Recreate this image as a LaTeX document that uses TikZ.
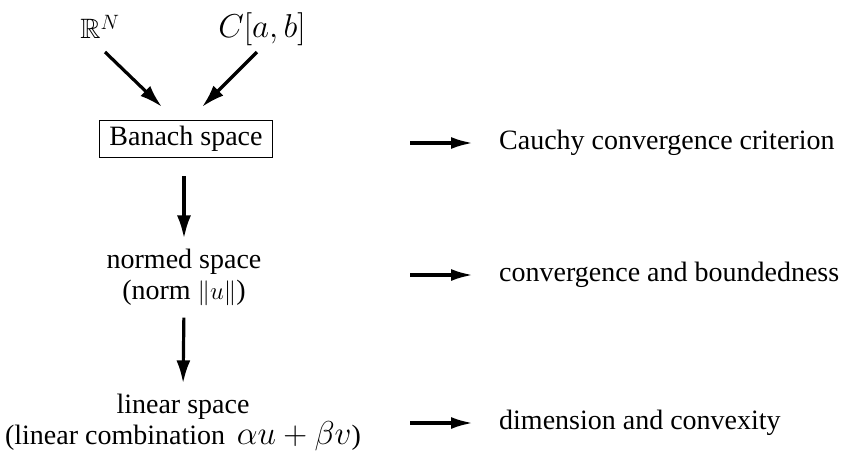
\documentclass[tikz,border=0pt]{standalone}
\usepackage{graphicx}
\usepackage{amssymb}
\usepackage{fontspec}
\setmainfont{Liberation Serif}
\usetikzlibrary{arrows.meta}
\newcommand\bigmath[1]{\scalebox{1.33}{$#1$}}
\tikzset{
  lbl/.style={inner sep=2pt, align=center, font=\fontsize{28}{31}\selectfont},
  arr/.style={line width=3.2pt, -{Latex[length=23pt,width=14pt]}},
  harr/.style={line width=3.2pt, -{Latex[length=22pt,width=12pt]}},
}
\begin{document}
\begin{tikzpicture}[x=1pt,y=-1pt]
\useasboundingbox (0,0) rectangle (841,451);
\node[lbl] (rn) at (100,27) {$\mathbb{R}^N$};
\node[lbl] (cab) at (262,29) {\bigmath{C[a,b]}};
\node[lbl, draw, line width=1.4pt, inner xsep=10pt, inner ysep=6pt] (ban) at (186,139) {Banach space};
\node[lbl] (nor) at (184,277) {normed space\\(norm $\|u\|$)};
\node[lbl] (lin) at (183,422) {linear space\\(linear combination\, \bigmath{\alpha u + \beta v})};
\node[lbl, anchor=west] (cau) at (497,143) {Cauchy convergence criterion};
\node[lbl, anchor=west] (cvb) at (497,275) {convergence and boundedness};
\node[lbl, anchor=west] (dim) at (497,423) {dimension and convexity};
\coordinate (s1) at (105,52);
\coordinate (e1) at (162,107);
\coordinate (s2) at (257,52);
\coordinate (e2) at (202,107);
\coordinate (h1) at (410,143);
\coordinate (h2) at (410,275);
\coordinate (h3) at (410,423);
\draw[arr] (s1) -- (e1);
\draw[arr] (s2) -- (e2);
\draw[arr, shorten <=18pt, shorten >=8pt] (ban.south -| nor.north) -- (nor.north);
\draw[arr, shorten <=10pt, shorten >=8pt] (nor.south) -- (lin.north);
\draw[harr, shorten >=24pt] (h1) -- (cau.west);
\draw[harr, shorten >=24pt] (h2) -- (cvb.west);
\draw[harr, shorten >=24pt] (h3) -- (dim.west);
\end{tikzpicture}
\end{document}
